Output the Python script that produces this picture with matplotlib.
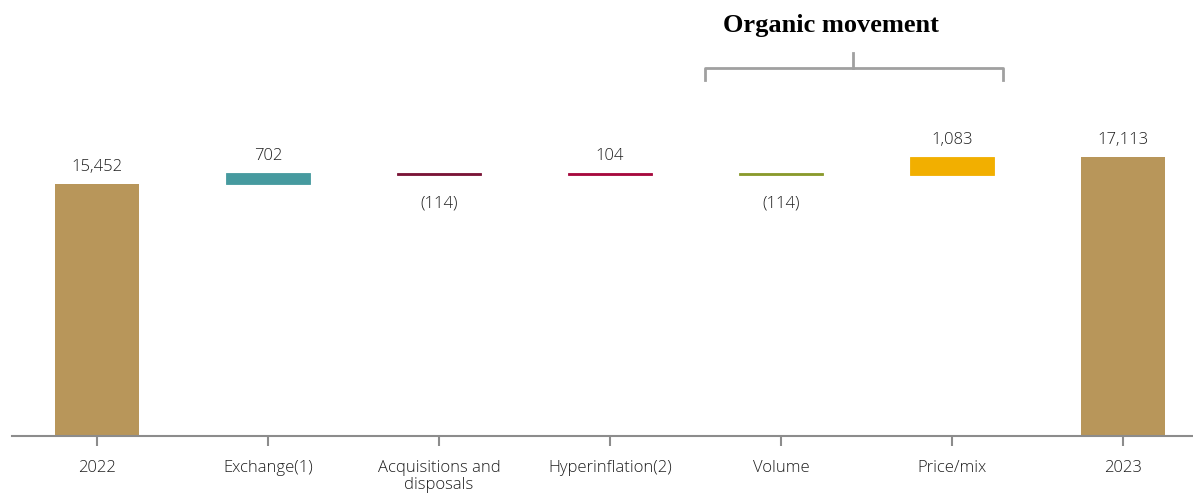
import matplotlib.pyplot as plt

plt.rcParams['font.family'] = ['Open Sans', 'DejaVu Sans']

categories = ["2022", "Exchange(1)", "Acquisitions and\ndisposals", "Hyperinflation(2)",
              "Volume", "Price/mix", "2023"]
values = [15452, 702, -114, 104, -114, 1083, 17113]
is_total = [True, False, False, False, False, False, True]
colors = ["#B8965A", "#469A9F", "#7A1436", "#A6093D", "#8A9A2C", "#F2AF00", "#B8965A"]

fig = plt.figure(figsize=(11.93, 4.94), dpi=100)
ax = fig.add_axes([11.5 / 1193, 58 / 494, 1 - 11.5 / 1193, 436 / 494])

running = 0
for i, (v, tot, c) in enumerate(zip(values, is_total, colors)):
    if tot:
        bottom, height = 0, v
        running = v
    else:
        bottom, height = running, v
        running += v
    # thin edge so the tiny movements stay visible
    ax.bar(i, height, bottom=bottom, width=0.49, color=c, edgecolor=c,
           linewidth=0 if tot else 0.6)
    top = max(bottom, bottom + height)
    low = min(bottom, bottom + height)
    txt = f"{v:,}" if v >= 0 else f"({abs(v):,})"
    if v >= 0:
        ax.text(i, top + 550, txt, ha="center", va="bottom", fontsize=12,
                color="#1f1f1f", fontweight="light")
    else:
        ax.text(i, low - 1270, txt, ha="center", va="top", fontsize=12,
                color="#1f1f1f", fontweight="light")

ax.set_xlim(-0.5, -0.5 + 1181.5 / 171)
ax.set_ylim(0, 26770)
ax.set_xticks(range(len(categories)))
ax.set_xticklabels(categories, fontsize=12, color="#1f1f1f", linespacing=1.15,
                   fontweight="light")
ax.tick_params(axis="x", length=7, width=1.5, color="#8c8c8c", pad=10, direction="out")
ax.set_yticks([])
for s in ["top", "right", "left"]:
    ax.spines[s].set_visible(False)
ax.spines["bottom"].set_color("#8c8c8c")
ax.spines["bottom"].set_linewidth(1.5)

# brace over the organic movement items
bx0, bx1, bxm = 3.556, 5.298, 4.42
ax.plot([bx0, bx0, bx1, bx1], [21850, 22600, 22600, 21850], color="#a0a0a0", lw=2, clip_on=False)
ax.plot([bxm, bxm], [22600, 23500], color="#a0a0a0", lw=2, clip_on=False)
ax.text(4.29, 25200, "Organic movement", ha="center", va="center", fontsize=19,
        fontweight="bold", family=["Liberation Serif", "DejaVu Serif"], color="black")

fig.savefig("out.png", dpi=100)
